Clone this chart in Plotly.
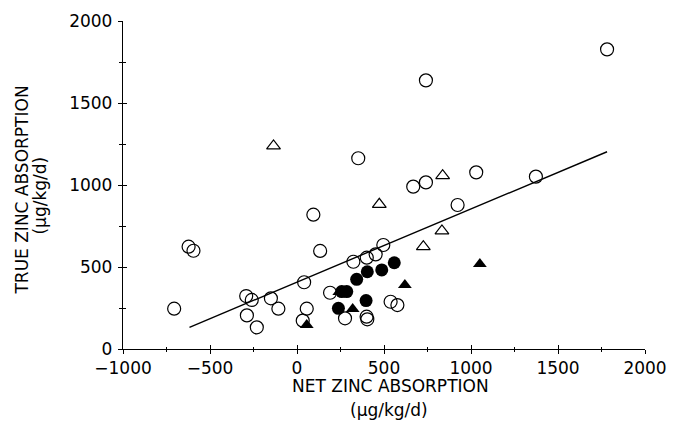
import plotly.graph_objects as go

# Open circles
oc_x = [1782, 741, 1030, 1373, 923, 668, 741, 352, 94, -623, -595, 133, 496, 452, 401, 324,
        -706, -292, -260, -288, -231, -150, -107, 41, 56, 33, 190, 276, 400, 404, 538, 577]
oc_y = [1827, 1638, 1077, 1051, 878, 990, 1016, 1163, 819, 624, 599, 598, 634, 577, 557, 532,
        246, 323, 299, 205, 132, 309, 246, 407, 246, 173, 343, 187, 197, 181, 288, 268]
# Filled circles
fc_x = [559, 487, 404, 343, 286, 257, 238, 397]
fc_y = [526, 482, 471, 425, 350, 350, 248, 295]
# Open triangles
ot_x = [-135, 473, 837, 833, 726]
ot_y = [1238, 882, 1057, 720, 624]
# Filled triangles
ft_x = [56, 243, 320, 620, 1051]
ft_y = [146, 348, 244, 390, 518]
# Regression line
fit_x = [-618, 1782]
fit_slope = 0.446
fit_intercept = 408

x_ticks = [-1000, -500, 0, 500, 1000, 1500, 2000]
y_ticks = [0, 500, 1000, 1500, 2000]

FONT = "DejaVu Sans"
fig = go.Figure()
fig.add_trace(go.Scatter(x=fit_x, y=[fit_intercept + fit_slope * v for v in fit_x], mode="lines",
                         line=dict(color="black", width=1.4), hoverinfo="skip"))
fig.add_trace(go.Scatter(x=oc_x, y=oc_y, mode="markers",
                         marker=dict(symbol="circle-open", size=13, color="black", line=dict(width=1.2))))
fig.add_trace(go.Scatter(x=ot_x, y=ot_y, mode="markers",
                         marker=dict(symbol="triangle-up-open", size=12, color="black", line=dict(width=1.2))))
fig.add_trace(go.Scatter(x=fc_x, y=fc_y, mode="markers",
                         marker=dict(symbol="circle", size=13, color="black")))
fig.add_trace(go.Scatter(x=ft_x, y=ft_y, mode="markers",
                         marker=dict(symbol="triangle-up", size=12, color="black")))
fig.add_trace(go.Scatter(x=[None], y=[None], xaxis="x2", yaxis="y2", showlegend=False))

# page body has an 8px default margin; compensate so the plot lands where the reference has it
OFF = 8
W, H = 684 - OFF, 424 - OFF
L, R, T, B = 122.7 - OFF, 38.7, 20.7 - OFF, 75.0
pw, ph = W - L - R, H - T - B

def px(xp):
    return (xp - OFF - L) / pw

def py(yp):
    return (H - B - (yp - OFF)) / ph

common = dict(showgrid=False, zeroline=False, linecolor="black", linewidth=1.4,
              tickcolor="black", tickwidth=1.2)
fig.update_layout(
    width=W, height=H, margin=dict(l=L, r=R, t=T, b=B, autoexpand=False),
    paper_bgcolor="white", plot_bgcolor="white", showlegend=False,
    font=dict(family=FONT, size=17, color="black"),
    xaxis=dict(range=[-1000, 2000], tickvals=x_ticks, ticks="outside", ticklen=4,
               showline=True, ticklabelstandoff=-1,
               minor=dict(dtick=250, ticks="outside", ticklen=2, tickcolor="black", tickwidth=1),
               tickfont=dict(family=FONT, size=17), **common),
    yaxis=dict(range=[0, 2000], tickvals=y_ticks, ticks="outside", ticklen=4,
               showline=True, ticklabelstandoff=2,
               minor=dict(dtick=250, ticks="outside", ticklen=3, tickcolor="black", tickwidth=1),
               tickfont=dict(family=FONT, size=17), **common),
    xaxis2=dict(range=[-1000, 2000], overlaying="x", anchor="y", side="bottom",
                tickvals=x_ticks, ticks="inside", ticklen=4, showticklabels=False, showline=False,
                minor=dict(dtick=250, ticks="inside", ticklen=2, tickcolor="black", tickwidth=1),
                showgrid=False, zeroline=False, tickcolor="black", tickwidth=1.2),
    yaxis2=dict(range=[0, 2000], overlaying="y", anchor="x", side="left",
                tickvals=y_ticks, ticks="inside", ticklen=4, showticklabels=False, showline=False,
                minor=dict(dtick=250, ticks="inside", ticklen=3, tickcolor="black", tickwidth=1),
                showgrid=False, zeroline=False, tickcolor="black", tickwidth=1.2),
)

ann = dict(xref="paper", yref="paper", showarrow=False, xanchor="center", yanchor="middle",
           font=dict(family=FONT, size=17, color="black"))
fig.add_annotation(text="NET ZINC ABSORPTION", x=px(391), y=py(386), **ann)
fig.add_annotation(text="(μg/kg/d)", x=px(389), y=py(410), **ann)
fig.add_annotation(text="TRUE ZINC ABSORPTION", x=px(22), y=py(190), textangle=-90, **ann)
fig.add_annotation(text="(μg/kg/d)", x=px(40), y=py(195), textangle=-90, **ann)

fig.write_html("out.html")
